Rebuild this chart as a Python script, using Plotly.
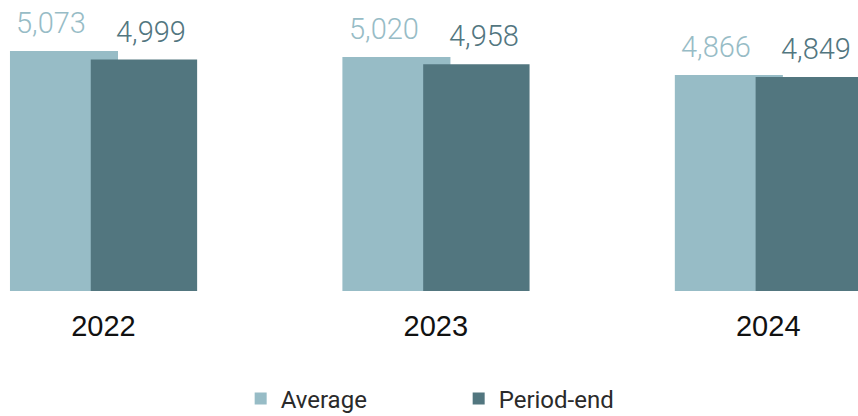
import plotly.graph_objects as go

# Headcount figures per year
years = ["2022", "2023", "2024"]
average = [5073, 5020, 4866]
period_end = [4999, 4958, 4849]

light = "#97bcc6"
dark = "#52767f"
label_font = "Roboto"

fig = go.Figure()

fig.add_trace(go.Bar(
    name="Average", x=years, y=average,
    marker=dict(color=light, line=dict(width=0)),
    width=0.325, offset=-0.281,
))
fig.add_trace(go.Bar(
    name="Period-end", x=years, y=period_end,
    marker=dict(color=dark, line=dict(width=0)),
    width=0.32, offset=-0.038,
))

# value labels above each bar
for i, yr in enumerate(years):
    fig.add_annotation(x=i, y=average[i], xref="x", yref="y",
                       text=f"{average[i]:,}", showarrow=False,
                       xshift=-52, yshift=9, yanchor="bottom",
                       font=dict(family=label_font, size=29, color=light, weight=300))
    fig.add_annotation(x=i, y=period_end[i], xref="x", yref="y",
                       text=f"{period_end[i]:,}", showarrow=False,
                       xshift=48, yshift=9, yanchor="bottom",
                       font=dict(family=label_font, size=29, color=dark, weight=300))

fig.update_layout(
    width=858, height=416,
    margin=dict(l=0, r=0, t=0, b=125),
    barmode="overlay",
    plot_bgcolor="white", paper_bgcolor="white",
    showlegend=True,
    legend=dict(orientation="h", x=0.2805, xanchor="left",
                yref="container", y=0.041, yanchor="middle",
                entrywidth=173, entrywidthmode="pixels",
                font=dict(family=label_font, size=24, color="#2a2a2a", weight=400),
                bgcolor="rgba(0,0,0,0)"),
    xaxis=dict(type="category", range=[-0.311, 2.27], showgrid=False, zeroline=False,
               showline=False, ticks="outside", ticklen=9, tickcolor="rgba(0,0,0,0)",
               tickfont=dict(family="Liberation Sans", size=29, color="#111111")),
    yaxis=dict(range=[3000, 5513], visible=False, showgrid=False),
)

fig.write_html("out.html")
